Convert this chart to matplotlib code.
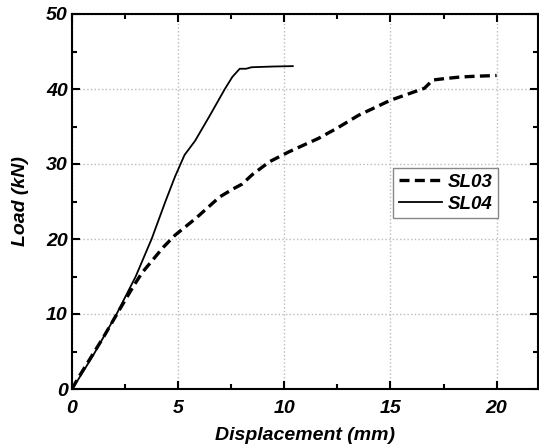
import matplotlib
matplotlib.use("Agg")
import matplotlib.pyplot as plt
from matplotlib.ticker import MultipleLocator

# Load-displacement curves
sl03_disp = [0.0, 0.3, 0.8, 1.5, 2.2, 2.87, 3.3, 3.8, 4.3, 4.85, 5.85, 6.95, 7.6, 8.0, 8.5,
             9.3, 10.2, 11.05, 11.6, 12.5, 13.5, 15.0, 16.0, 16.6, 17.0, 17.6, 18.3, 19.0, 20.0]
sl03_load = [0.0, 1.5, 3.8, 7.0, 10.4, 13.6, 15.5, 17.2, 18.9, 20.5, 22.8, 25.6, 26.7, 27.3, 28.6,
             30.3, 31.6, 32.7, 33.4, 34.8, 36.5, 38.5, 39.5, 40.1, 41.2, 41.4, 41.6, 41.7, 41.8]

sl04_disp = [0.0, 0.3, 1.0, 2.1, 3.0, 3.75, 4.4, 4.85, 5.3, 5.8, 6.5, 7.2, 7.55, 7.9, 8.2,
             8.45, 9.5, 10.4]
sl04_load = [0.0, 1.3, 4.5, 10.0, 15.0, 20.0, 25.0, 28.3, 31.2, 33.1, 36.5, 40.0, 41.6, 42.7, 42.7,
             42.9, 43.0, 43.05]

x_ticks = [0, 5, 10, 15, 20]
y_ticks = [0, 10, 20, 30, 40, 50]

plt.rcParams['font.family'] = ['Liberation Sans', 'DejaVu Sans']

fig = plt.figure(figsize=(5.39, 4.46), dpi=100)
ax = fig.add_axes([72 / 539, 1 - 389 / 446, 466 / 539, 375 / 446])

ax.plot(sl03_disp, sl03_load, color='black', lw=2.4, ls=(0, (3.0, 1.6)), label='SL03')
ax.plot(sl04_disp, sl04_load, color='black', lw=1.3, ls='-', label='SL04')

ax.set_xlim(0, 21.95)
ax.set_ylim(0, 50)
ax.set_xticks(x_ticks)
ax.set_yticks(y_ticks)
ax.xaxis.set_minor_locator(MultipleLocator(2.5))
ax.yaxis.set_minor_locator(MultipleLocator(5))

ax.grid(True, which='major', color='#bbbbbb', ls=':', lw=1.0)
ax.set_axisbelow(True)

ax.tick_params(which='both', direction='in', top=True, right=True, width=1.5)
ax.tick_params(which='major', length=6)
ax.tick_params(which='minor', length=3.5)
ax.tick_params(axis='x', which='major', pad=8)
ax.tick_params(axis='y', which='major', pad=3)
for s in ax.spines.values():
    s.set_linewidth(1.5)

for lbl in ax.get_xticklabels() + ax.get_yticklabels():
    lbl.set_fontweight('bold')
    lbl.set_fontstyle('italic')
    lbl.set_fontsize(14)

ax.set_xlabel('Displacement (mm)', fontsize=14, fontweight='bold', fontstyle='italic', labelpad=7)
ax.set_ylabel('Load (kN)', fontsize=14, fontweight='bold', fontstyle='italic', labelpad=12)

leg = ax.legend(loc='upper left', bbox_to_anchor=((393 - 72) / 466, (389 - 168) / 375),
                frameon=True, fancybox=False, edgecolor='#888888', framealpha=1,
                prop={'weight': 'bold', 'style': 'italic', 'size': 13.5},
                handlelength=2.3, handletextpad=0.3, borderpad=0.3, labelspacing=0.25,
                borderaxespad=0)
leg.get_frame().set_linewidth(1.0)

fig.savefig('out.png', dpi=100)
